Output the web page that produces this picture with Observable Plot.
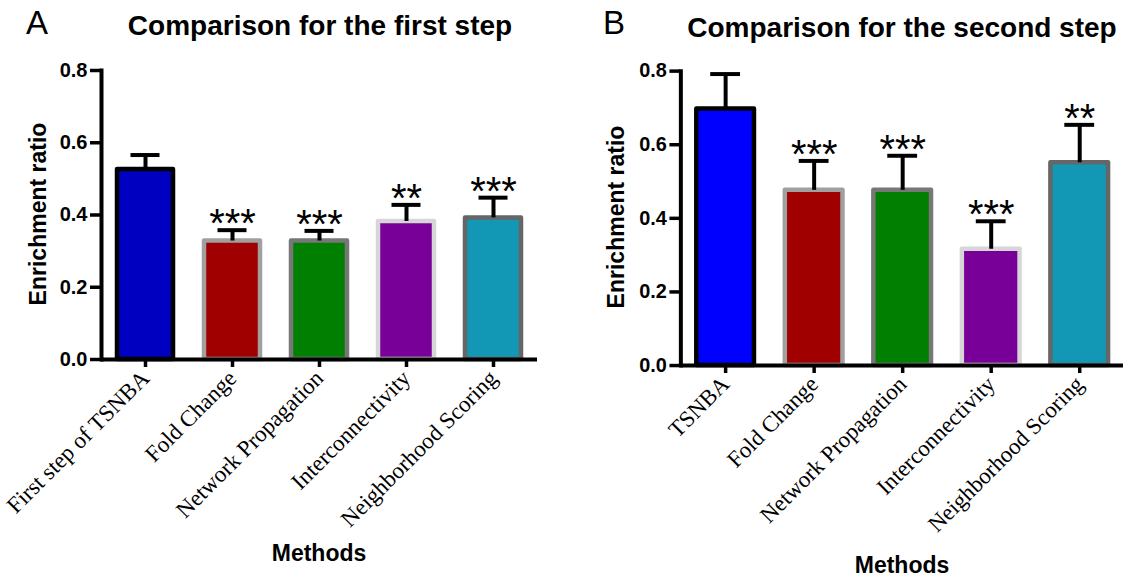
<!DOCTYPE html>
<html>
<head>
<meta charset="utf-8">
<script src="https://cdn.jsdelivr.net/npm/d3@7"></script>
<script src="https://cdn.jsdelivr.net/npm/@observablehq/plot@0.6"></script>
<style>
  html, body { margin: 0; padding: 0; background: #fff; }
  #root { position: relative; width: 1123px; height: 580px; overflow: hidden; background: #fff; }
  .abs { position: absolute; white-space: nowrap; color: #000; font-family: "Liberation Sans", Arial, sans-serif; }
  .center { transform: translate(-50%, -50%); }
  .title { font-weight: bold; font-size: 28px; }
  .letter { font-size: 33px; }
  .ylab { font-weight: bold; font-size: 23px; transform: translate(-50%, -50%) rotate(-90deg); }
  .xlab { font-weight: bold; font-size: 23px; }
  .panel { position: absolute; top: 0; }
</style>
</head>
<body>
<div id="root">
  <div class="abs letter" style="left:26px; top:4px;">A</div>
  <div class="abs letter" style="left:603px; top:4px;">B</div>
  <div class="abs title center" style="left:320px; top:26px;">Comparison for the first step</div>
  <div class="abs title center" style="left:902px; top:28px;">Comparison for the second step</div>
  <div class="abs ylab" style="left:38px; top:214px;">Enrichment ratio</div>
  <div class="abs ylab" style="left:616px; top:217px;">Enrichment ratio</div>
  <div class="abs xlab center" style="left:319px; top:553px;">Methods</div>
  <div class="abs xlab center" style="left:902px; top:565px;">Methods</div>
  <div id="pA" class="panel" style="left:0px;"></div>
  <div id="pB" class="panel" style="left:561px;"></div>
</div>
<script>
// ---- data ----
const categoriesA = ["First step of TSNBA", "Fold Change", "Network Propagation", "Interconnectivity", "Neighborhood Scoring"];
const categoriesB = ["TSNBA", "Fold Change", "Network Propagation", "Interconnectivity", "Neighborhood Scoring"];
const meanA = [0.526, 0.328, 0.328, 0.382, 0.392];
const upperA = [0.566, 0.358, 0.356, 0.428, 0.448];
const sigA = ["", "***", "***", "**", "***"];
const meanB = [0.697, 0.476, 0.476, 0.316, 0.551];
const upperB = [0.792, 0.556, 0.570, 0.392, 0.654];
const sigB = ["", "***", "***", "***", "**"];
const yTicks = [0, 0.2, 0.4, 0.6, 0.8];
// ---- styles ----
const fillA = ["#0000c0", "#a00000", "#007f00", "#780098", "#1298b4"];
const fillB = ["#0000ff", "#a00000", "#007f00", "#780098", "#1298b4"];
const strokeColors = ["#000000", "#a0a0a0", "#777777", "#d6d6d6", "#666666"];

function makeData(cats, mean, upper, sig, fills) {
  return cats.map((c, i) => ({method: c, value: mean[i], hi: upper[i], sig: sig[i], fill: fills[i], stroke: strokeColors[i]}));
}

function panel(data, cats, opts) {
  return Plot.plot({
    width: opts.width,
    height: 580,
    marginLeft: opts.marginLeft,
    marginRight: opts.marginRight,
    marginTop: opts.marginTop,
    marginBottom: opts.marginBottom,
    style: {fontFamily: "Liberation Sans, Arial, sans-serif", color: "#000", background: "transparent", overflow: "visible"},
    x: {domain: cats, paddingInner: opts.pad, paddingOuter: opts.pad / 2, axis: null},
    y: {domain: [0, 0.8], axis: null},
    color: {type: "identity"},
    marks: [
      Plot.barY(data, {x: "method", y: "value", fill: "fill", stroke: "stroke", strokeWidth: 4.5, strokeLinejoin: "round"}),
      Plot.ruleX(data, {x: "method", y1: "value", y2: "hi", stroke: "#000", strokeWidth: 4}),
      Plot.tickY(data, {x: "method", y: "hi", stroke: "#000", strokeWidth: 4, insetLeft: opts.capInset, insetRight: opts.capInset}),
      Plot.text(data.filter(d => d.sig), {x: "method", y: "hi", text: "sig", lineAnchor: "bottom", dy: 7, fontSize: 40, fill: "#000"}),
      Plot.axisY({ticks: yTicks, tickFormat: d3.format(".1f"), tickSize: 11, tickPadding: 3, strokeWidth: 3.5, fontSize: 20, fontWeight: "bold", label: null, fill: "#000", stroke: "#000"}),
      Plot.axisX({tickSize: 8, tickPadding: 7, tickRotate: -45, strokeWidth: 3.5, fontSize: 23, fontFamily: "Liberation Serif, Times New Roman, serif", label: null, fill: "#000", stroke: "#000"}),
      Plot.frame({anchor: "left", stroke: "#000", strokeWidth: 4}),
      Plot.ruleY([0], {stroke: "#000", strokeWidth: 4})
    ]
  });
}

const dataA = makeData(categoriesA, meanA, upperA, sigA, fillA);
const dataB = makeData(categoriesB, meanB, upperB, sigB, fillB);

document.getElementById("pA").append(panel(dataA, categoriesA, {width: 561, marginLeft: 101, marginRight: 24, marginTop: 70, marginBottom: 221, pad: 0.36, capInset: 13.5}));
document.getElementById("pB").append(panel(dataB, categoriesB, {width: 565, marginLeft: 120, marginRight: 0, marginTop: 71, marginBottom: 213, pad: 0.35, capInset: 14}));
</script>
</body>
</html>
